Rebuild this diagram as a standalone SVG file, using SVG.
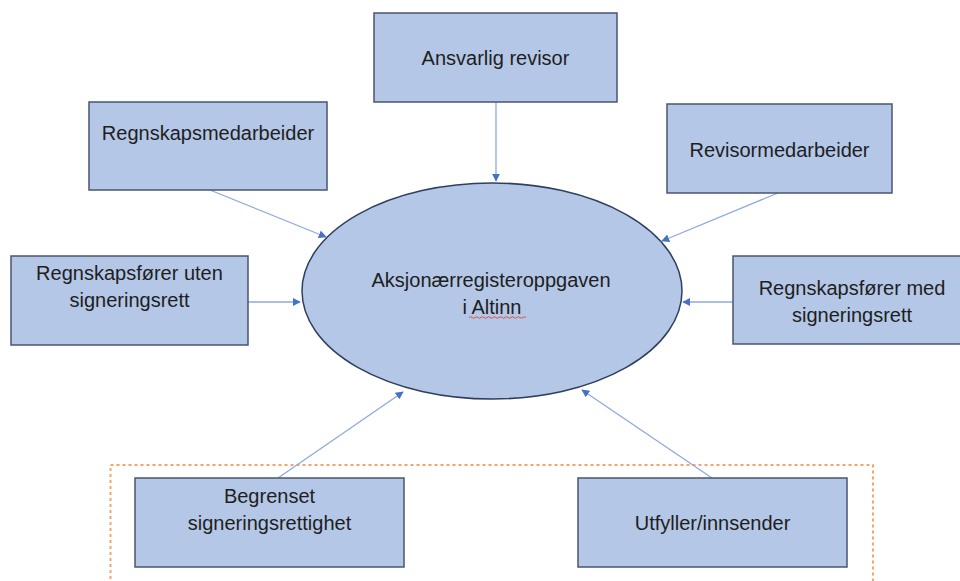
<svg xmlns="http://www.w3.org/2000/svg" width="960" height="581" viewBox="0 0 960 581">
  <defs>
    <style>
      .box { fill: #B4C7E7; stroke: #4A5570; stroke-width: 1.5; }
      .lbl { font-family: "Liberation Sans", Arial, sans-serif; font-size: 20px; fill: #1E1E1E; text-anchor: middle; }
      .conn { stroke: #8EAADB; stroke-width: 1.3; fill: none; marker-end: url(#arr); }
    </style>
    <marker id="arr" viewBox="0 0 10 10" refX="9" refY="5" markerWidth="8" markerHeight="8" markerUnits="userSpaceOnUse" orient="auto">
      <path d="M0,0 L10,5 L0,10 z" fill="#4472C4"/>
    </marker>
  </defs>
  <rect width="960" height="581" fill="#FFFFFF"/>

  <g id="group-boundary">
    <path d="M110.5,585 V465 H873 V585" fill="none" stroke="#F4A46A" stroke-width="2" stroke-dasharray="3 3"/>
  </g>

  <g id="connectors">
    <line class="conn" x1="496" y1="102" x2="496" y2="181"/>
    <line class="conn" x1="210" y1="190" x2="326" y2="237"/>
    <line class="conn" x1="778" y1="193" x2="662" y2="241"/>
    <line class="conn" x1="248" y1="302" x2="300" y2="302"/>
    <line class="conn" x1="733" y1="302" x2="683" y2="302"/>
    <line class="conn" x1="278" y1="478" x2="403" y2="392"/>
    <line class="conn" x1="712" y1="478" x2="582" y2="390"/>
  </g>

  <g id="center">
    <ellipse cx="492" cy="291" rx="190" ry="108" fill="#B4C7E7" stroke="#2F3F5F" stroke-width="1.5"/>
    <text class="lbl" x="491" y="287">Aksjonærregisteroppgaven</text>
    <text class="lbl" x="492" y="314">i Altinn</text>
    <path d="M469,317.5 q1.5,-1.5 3,0 t3,0 t3,0 t3,0 t3,0 t3,0 t3,0 t3,0 t3,0 t3,0 t3,0 t3,0 t3,0 t3,0 t3,0 t3,0 t3,0 t3,0 t3,0" fill="none" stroke="#E0504A" stroke-width="1"/>
  </g>

  <g id="ansvarlig-revisor">
    <rect class="box" x="374" y="13" width="243" height="89"/>
    <text class="lbl" x="495.5" y="65">Ansvarlig revisor</text>
  </g>

  <g id="regnskapsmedarbeider">
    <rect class="box" x="89" y="102" width="238" height="88"/>
    <text class="lbl" x="208" y="140">Regnskapsmedarbeider</text>
  </g>

  <g id="revisormedarbeider">
    <rect class="box" x="667" y="104" width="225" height="89"/>
    <text class="lbl" x="779.5" y="157">Revisormedarbeider</text>
  </g>

  <g id="regnskapsforer-uten">
    <rect class="box" x="11" y="256" width="237" height="89"/>
    <text class="lbl" x="129.5" y="280">Regnskapsfører uten</text>
    <text class="lbl" x="129.5" y="307">signeringsrett</text>
  </g>

  <g id="regnskapsforer-med">
    <rect class="box" x="733" y="256" width="238" height="88"/>
    <text class="lbl" x="852" y="295">Regnskapsfører med</text>
    <text class="lbl" x="852" y="322">signeringsrett</text>
  </g>

  <g id="begrenset">
    <rect class="box" x="135" y="478" width="269" height="89"/>
    <text class="lbl" x="269.5" y="503">Begrenset</text>
    <text class="lbl" x="269.5" y="530">signeringsrettighet</text>
  </g>

  <g id="utfyller">
    <rect class="box" x="578" y="478" width="269" height="89"/>
    <text class="lbl" x="712.5" y="530">Utfyller/innsender</text>
  </g>
</svg>
